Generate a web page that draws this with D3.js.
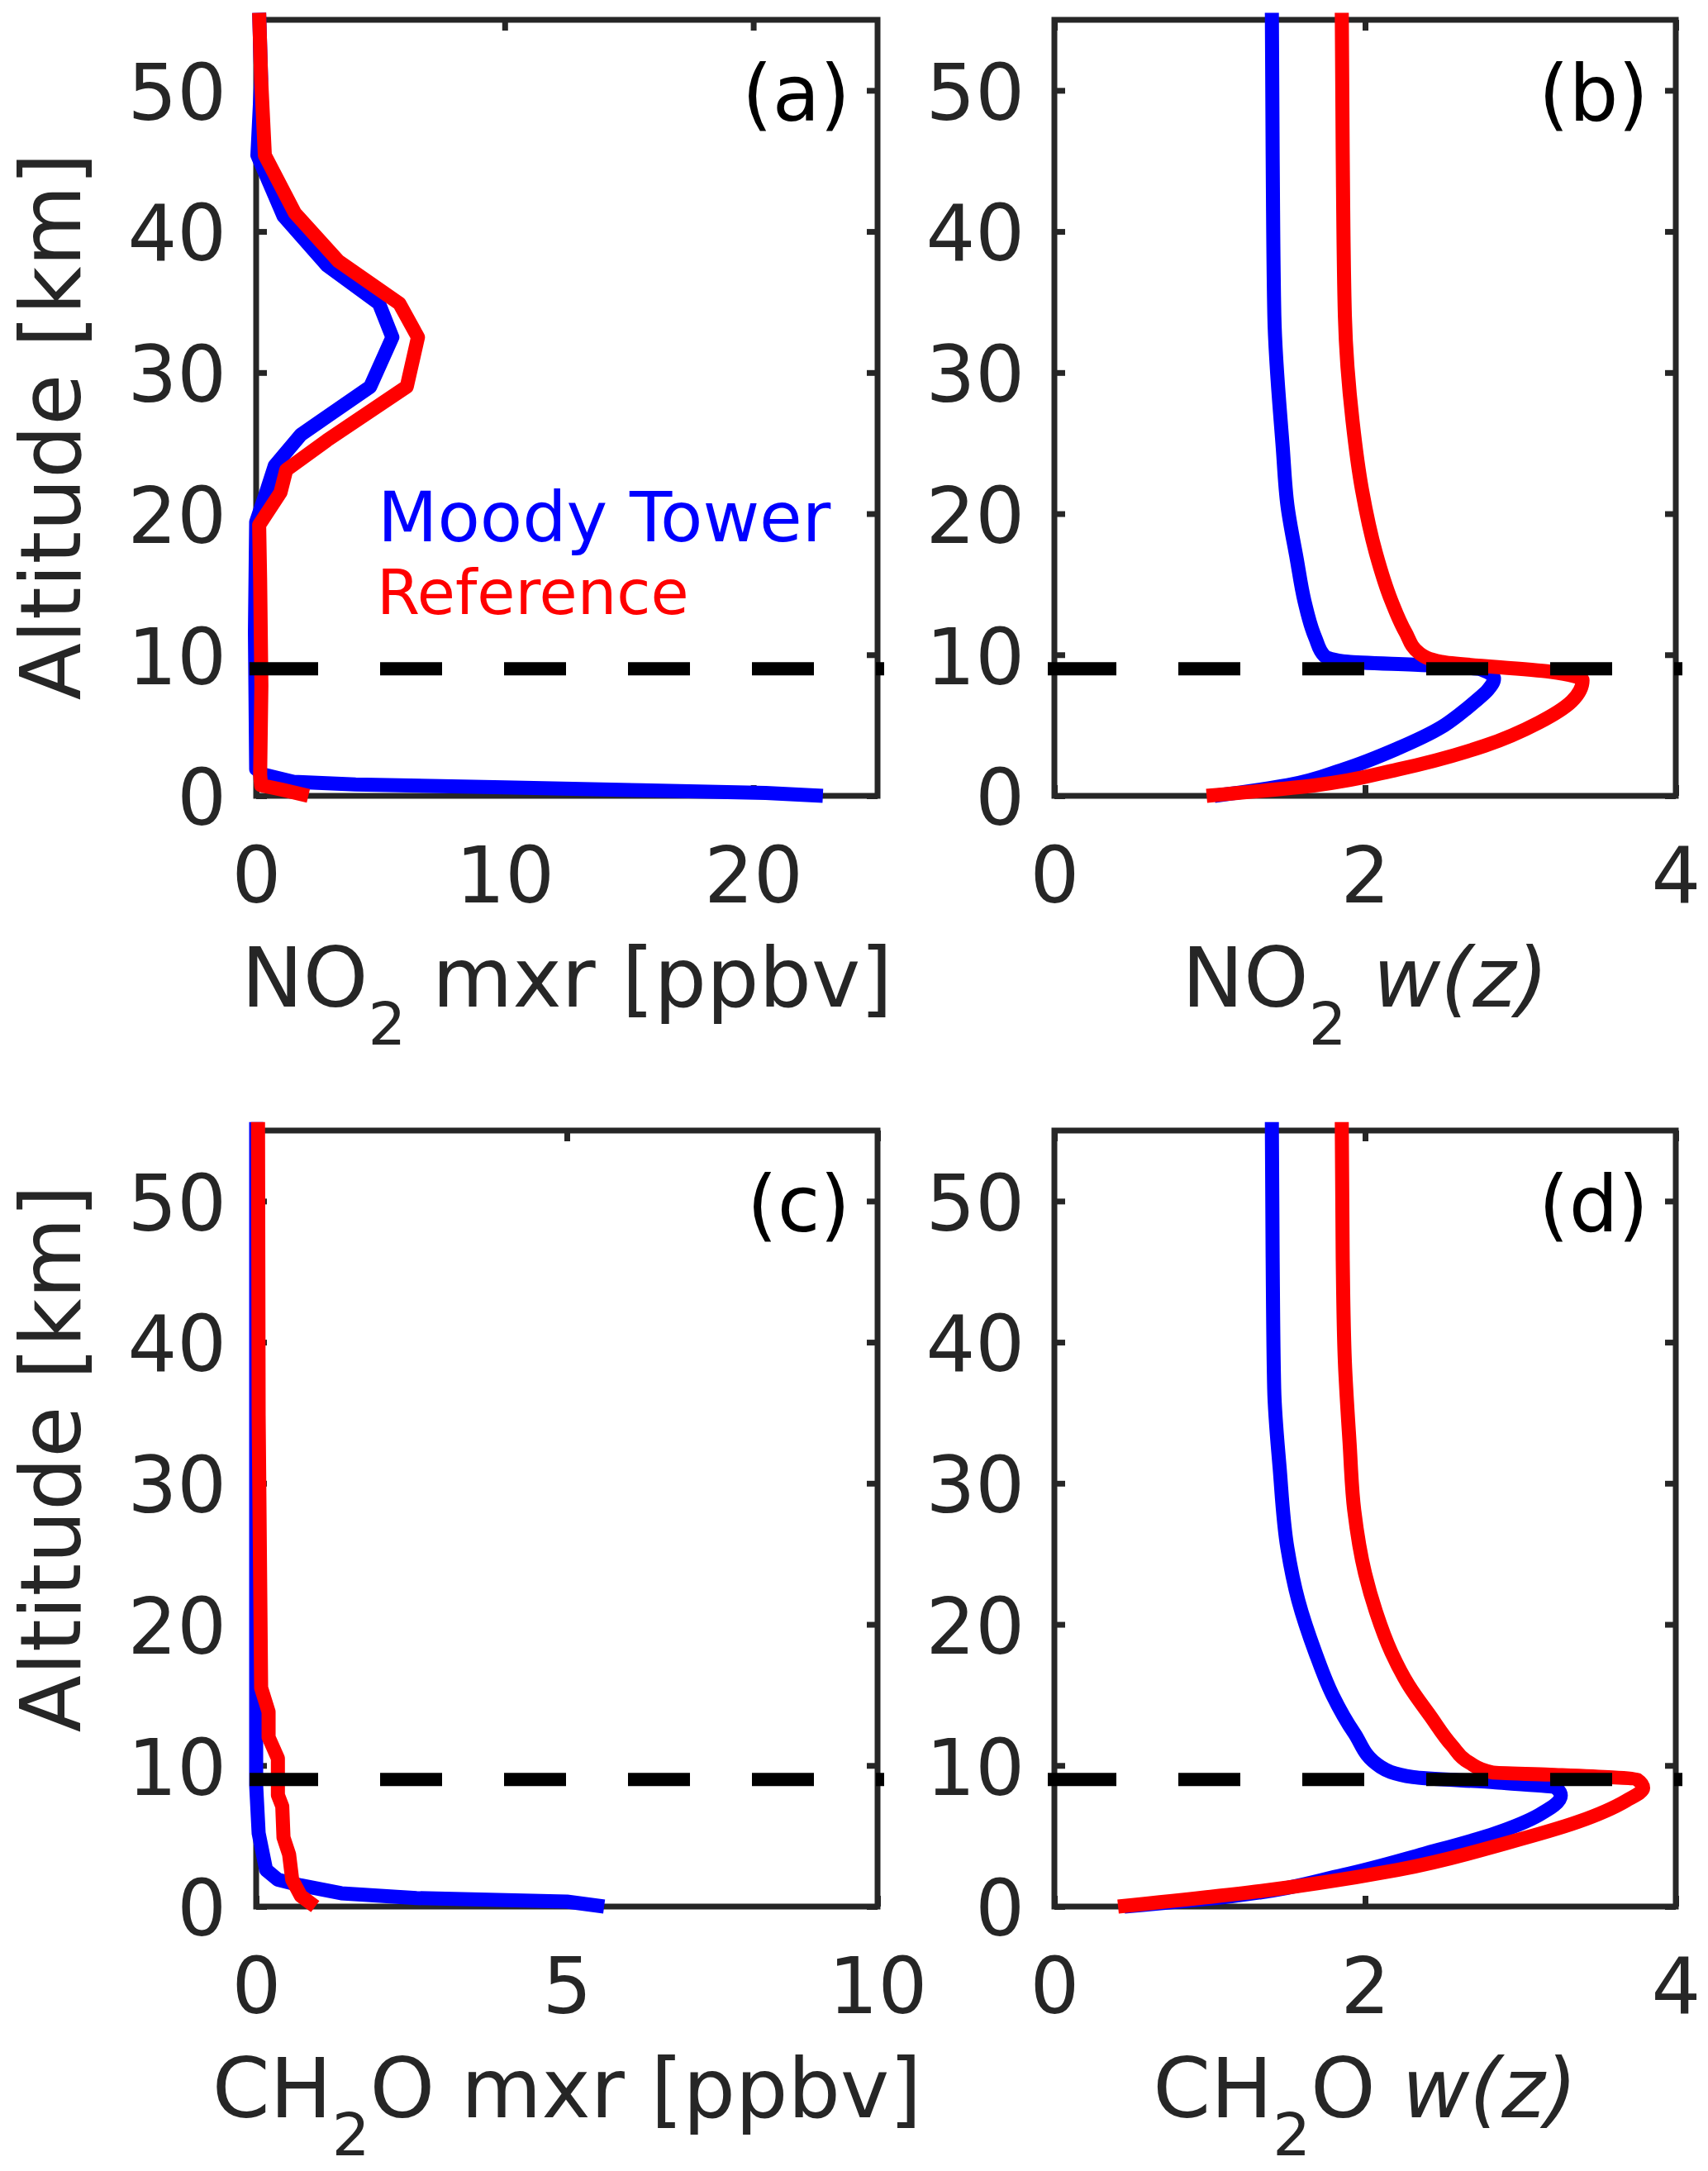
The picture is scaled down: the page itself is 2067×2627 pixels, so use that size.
<!DOCTYPE html>
<html>
<head>
<meta charset="utf-8">
<script src="https://cdn.jsdelivr.net/npm/d3@7"></script>
<style>
body { margin: 0; background: #fff; }
text { font-family: "DejaVu Sans", sans-serif; white-space: pre; }
</style>
</head>
<body>
<script>
// values: altitude [km] and the matching profile value
var altTicks = [0, 10, 20, 30, 40, 50];
var panelTags = ["(a)", "(b)", "(c)", "(d)"];
var xTicksA = [0, 10, 20], xTicksB = [0, 2, 4], xTicksC = [0, 5, 10], xTicksD = [0, 2, 4];
var xMaxes = [25, 4, 10, 4];
var altMax = 55;
var tropopause = 9;
var legendNames = ["Moody Tower", "Reference"];

// (a) NO2 mixing ratio [ppbv]
var no2MxrTowerAlt = [55.5, 50.8, 45.4, 41.1, 37.6, 34.9, 32.5, 29.0, 25.6, 23.4, 21.5, 19.4, 11.6, 1.9, 1.5, 1.0, 0.8, 0.6, 0.4, 0.2, 0.0];
var no2MxrTowerVal = [0.12, 0.2, 0.05, 1.10, 2.85, 4.94, 5.48, 4.59, 1.80, 0.75, 0.40, 0.0, -0.05, 0.0, 0.3, 1.5, 4.0, 10.0, 15.5, 20.5, 22.8];
var no2MxrRefAlt = [55.5, 50.8, 45.4, 41.3, 37.9, 34.9, 32.5, 29.0, 25.2, 23.1, 21.5, 19.2, 15.3, 7.8, 1.5, 0.75, 0.45, 0.0];
var no2MxrRefVal = [0.12, 0.2, 0.35, 1.56, 3.31, 5.76, 6.51, 6.06, 2.85, 1.21, 0.98, 0.12, 0.16, 0.21, 0.16, 0.2, 1.0, 2.1];

// (b) NO2 w(z)
var no2WzTowerAlt = [55.5, 45.6, 34.0, 24.7, 20.6, 16.8, 13.8, 11.2, 9.9, 9.5, 9.25, 8.95, 8.3, 7.5, 6.7, 5.8, 4.86, 3.36, 1.87, 0.75, 0.0];
var no2WzTowerVal = [1.40, 1.405, 1.416, 1.47, 1.50, 1.56, 1.61, 1.68, 1.74, 1.89, 2.40, 2.75, 2.83, 2.79, 2.71, 2.61, 2.49, 2.21, 1.86, 1.50, 1.03];
var no2WzRefAlt = [55.5, 45.6, 34.0, 26.5, 21.7, 17.2, 13.8, 11.6, 10.1, 9.5, 8.8, 8.2, 6.7, 5.2, 3.55, 1.87, 0.75, 0.0];
var no2WzRefVal = [1.85, 1.856, 1.87, 1.92, 1.98, 2.07, 2.17, 2.26, 2.35, 2.49, 3.19, 3.40, 3.33, 3.12, 2.77, 2.21, 1.68, 0.98];

// (c) CH2O mixing ratio [ppbv]
var ch2oMxrTowerAlt = [55.6, 16.8, 12.3, 8.6, 5.2, 2.6, 1.9, 1.5, 0.94, 0.6, 0.35, 0.0];
var ch2oMxrTowerVal = [0.0, 0.0, 0.0, 0.0, 0.04, 0.16, 0.35, 0.72, 1.37, 2.58, 5.0, 5.6];
var ch2oMxrRefAlt = [55.6, 34.8, 15.5, 13.8, 12.0, 10.5, 7.9, 7.1, 4.9, 3.7, 1.9, 0.75, 0.0];
var ch2oMxrRefVal = [0.03, 0.04, 0.08, 0.2, 0.2, 0.35, 0.35, 0.42, 0.44, 0.53, 0.58, 0.72, 0.95];

// (d) CH2O w(z)
var ch2oWzTowerAlt = [55.6, 46.0, 36.7, 31.1, 25.4, 21.7, 18.0, 15.0, 12.3, 9.9, 9.17, 8.8, 8.4, 7.86, 6.5, 5.2, 3.74, 2.24, 0.75, 0.0];
var ch2oWzTowerVal = [1.40, 1.405, 1.415, 1.45, 1.50, 1.57, 1.68, 1.79, 1.93, 2.10, 2.31, 2.84, 3.23, 3.26, 3.12, 2.84, 2.38, 1.86, 1.15, 0.45];
var ch2oWzRefAlt = [55.6, 46.0, 38.6, 32.9, 28.1, 23.6, 20.9, 18.0, 15.7, 13.5, 11.4, 10.2, 9.5, 9.35, 9.0, 8.4, 7.5, 6.0, 4.5, 2.6, 1.1, 0.0];
var ch2oWzRefVal = [1.85, 1.856, 1.87, 1.90, 1.93, 2.0, 2.07, 2.17, 2.28, 2.42, 2.56, 2.67, 2.82, 3.19, 3.75, 3.79, 3.68, 3.37, 2.91, 2.21, 1.33, 0.41];

var W = 2067, H = 2627;
var boxW = 752, boxH = 939;
var axisColor = "#262626";
var towerColor = "#0000ff", refColor = "#ff0000";

function zip(alts, vals) {
    var out = [];
    for (var i = 0; i < alts.length; i++) out.push({alt: alts[i], v: vals[i]});
    out.sort(function(a, b) { return a.alt - b.alt; });
    return out;
}

var panels = [
    {tag: panelTags[0], xMax: xMaxes[0], xTicks: xTicksA, left: 310, top: 24, smooth: false, legend: true,
     tower: zip(no2MxrTowerAlt, no2MxrTowerVal), ref: zip(no2MxrRefAlt, no2MxrRefVal),
     xLabel: [{t: "NO"}, {t: "2", sub: true}, {t: " mxr [ppbv]"}], yLabelMid: 516},
    {tag: panelTags[1], xMax: xMaxes[1], xTicks: xTicksB, left: 1276, top: 24, smooth: true,
     tower: zip(no2WzTowerAlt, no2WzTowerVal), ref: zip(no2WzRefAlt, no2WzRefVal),
     xLabel: [{t: "NO"}, {t: "2", sub: true}, {t: " "}, {t: "w(z)", it: true}]},
    {tag: panelTags[2], xMax: xMaxes[2], xTicks: xTicksC, left: 310, top: 1368, smooth: false,
     tower: zip(ch2oMxrTowerAlt, ch2oMxrTowerVal), ref: zip(ch2oMxrRefAlt, ch2oMxrRefVal),
     xLabel: [{t: "CH"}, {t: "2", sub: true}, {t: "O mxr [ppbv]"}], yLabelMid: 1765},
    {tag: panelTags[3], xMax: xMaxes[3], xTicks: xTicksD, left: 1276, top: 1368, smooth: true,
     tower: zip(ch2oWzTowerAlt, ch2oWzTowerVal), ref: zip(ch2oWzRefAlt, ch2oWzRefVal),
     xLabel: [{t: "CH"}, {t: "2", sub: true}, {t: "O "}, {t: "w(z)", it: true}]}
];

var svg = d3.select("body").append("svg")
    .attr("width", W)
    .attr("height", H)
    .style("background", "#fff");

panels.forEach(function(p) {
    var x = d3.scaleLinear().domain([0, p.xMax]).range([p.left, p.left + boxW]);
    var y = d3.scaleLinear().domain([0, altMax]).range([p.top + boxH, p.top]);
    var g = svg.append("g");

    // frame
    g.append("rect")
        .attr("x", p.left).attr("y", p.top)
        .attr("width", boxW).attr("height", boxH)
        .attr("fill", "none")
        .attr("stroke", axisColor)
        .attr("stroke-width", 7);

    // ticks point inward on all four sides
    var bottom = g.append("g").attr("transform", "translate(0," + (p.top + boxH) + ")")
        .call(d3.axisBottom(x).tickValues(p.xTicks).tickSizeInner(-13).tickSizeOuter(0).tickPadding(62).tickFormat(d3.format("d")));
    var top = g.append("g").attr("transform", "translate(0," + p.top + ")")
        .call(d3.axisTop(x).tickValues(p.xTicks).tickSizeInner(-13).tickSizeOuter(0).tickFormat(""));
    var left = g.append("g").attr("transform", "translate(" + p.left + ",0)")
        .call(d3.axisLeft(y).tickValues(altTicks).tickSizeInner(-13).tickSizeOuter(0).tickPadding(36).tickFormat(d3.format("d")));
    var right = g.append("g").attr("transform", "translate(" + (p.left + boxW) + ",0)")
        .call(d3.axisRight(y).tickValues(altTicks).tickSizeInner(-13).tickSizeOuter(0).tickFormat(""));

    [bottom, top, left, right].forEach(function(a) {
        a.select(".domain").remove();
        a.selectAll(".tick line").attr("stroke", axisColor).attr("stroke-width", 7);
        a.selectAll("text")
            .attr("fill", axisColor)
            .style("font-size", "94px")
            .style("font-family", "'DejaVu Sans', sans-serif");
    });
    left.selectAll("text").attr("dy", "0.37em");

    // profiles
    var line = d3.line()
        .x(function(d) { return x(d.v); })
        .y(function(d) { return y(d.alt); })
        .curve(p.smooth ? d3.curveMonotoneY : d3.curveLinear);

    g.append("path").datum(p.tower)
        .attr("d", line)
        .attr("fill", "none")
        .attr("stroke", towerColor)
        .attr("stroke-width", 17)
        .attr("stroke-linejoin", "round");
    g.append("path").datum(p.ref)
        .attr("d", line)
        .attr("fill", "none")
        .attr("stroke", refColor)
        .attr("stroke-width", 17)
        .attr("stroke-linejoin", "round");

    // dashed tropopause line, with a square end reaching a little past the frame
    var ext = 8, dashLen = 75;
    var total = boxW + 2 * ext;
    var pattern = [dashLen + ext];
    var acc = dashLen + ext;
    while (acc < total + 2 * dashLen) { pattern.push(dashLen); acc += dashLen; }
    g.append("line")
        .attr("x1", x(0) - ext).attr("x2", x(p.xMax) + ext)
        .attr("y1", y(tropopause)).attr("y2", y(tropopause))
        .attr("stroke", "#000")
        .attr("stroke-width", 16)
        .attr("stroke-dasharray", pattern.join(","));

    // panel tag
    g.append("text")
        .attr("x", p.left + boxW - 33)
        .attr("y", p.top + 122)
        .attr("text-anchor", "end")
        .attr("fill", "#000")
        .style("font-size", "94px")
        .text(p.tag);

    // x label with a lowered, smaller "2"
    var xl = g.append("text")
        .attr("x", p.left + boxW / 2)
        .attr("y", p.top + boxH + 255)
        .attr("text-anchor", "middle")
        .attr("fill", axisColor)
        .style("font-size", "100px");
    var down = 0;
    p.xLabel.forEach(function(s) {
        var ts = xl.append("tspan").text(s.t);
        if (s.sub) { ts.attr("dy", 46).style("font-size", "72px"); down = 46; }
        else if (down) { ts.attr("dy", -down); down = 0; }
        if (s.it) ts.style("font-style", "italic");
    });

    // y label on the left-hand panels
    if (p.yLabelMid) {
        g.append("text")
            .attr("transform", "translate(97," + p.yLabelMid + ") rotate(-90)")
            .attr("text-anchor", "middle")
            .attr("fill", axisColor)
            .style("font-size", "101px")
            .text("Altitude [km]");
    }

    if (p.legend) {
        g.append("text")
            .attr("x", 457).attr("y", 655)
            .attr("fill", towerColor)
            .style("font-size", "84px")
            .text(legendNames[0]);
        g.append("text")
            .attr("x", 456).attr("y", 743)
            .attr("fill", refColor)
            .style("font-size", "75px")
            .text(legendNames[1]);
    }
});
</script>
</body>
</html>
